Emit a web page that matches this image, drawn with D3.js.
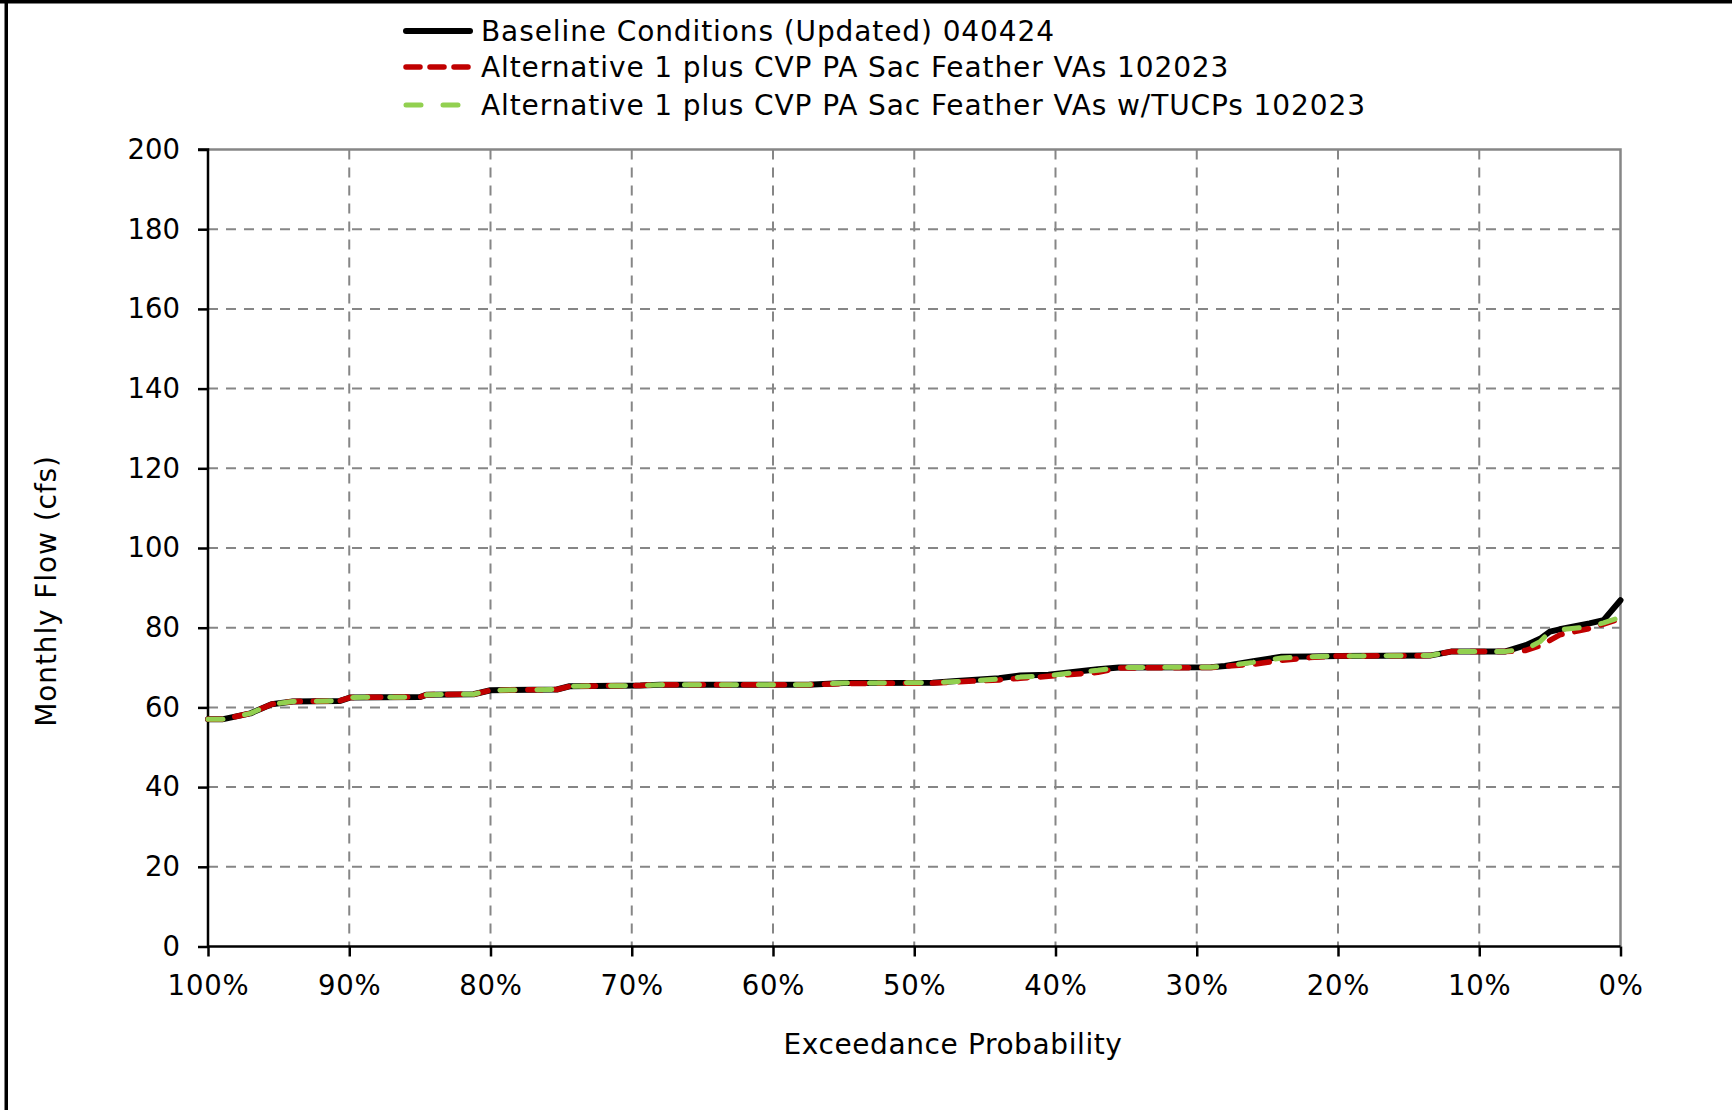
<!DOCTYPE html>
<html>
<head>
<meta charset="utf-8">
<script src="https://cdn.jsdelivr.net/npm/d3@7"></script>
<style>
  body { margin: 0; background: #fff; }
  text { font-family: Verdana, "DejaVu Sans", sans-serif; fill: #000; }
</style>
</head>
<body>
<div id="chart"></div>
<script>
// exceedance probability (%) and monthly flow (cfs)
const exceedance = [100, 99, 97, 95.5, 94, 90.7, 89.9, 85, 84.5, 81.2, 80, 75.3, 74.4, 69.4, 68, 57.5, 55, 48.7, 47, 44,
    42.5, 40.5, 37, 35.5, 29, 28, 26, 24, 22, 20, 13.5, 12, 8.2, 6.7, 5.7, 5.0, 4.3, 2.2, 1.2, 0];

const baseline = [57.0, 57.0, 58.5, 60.8, 61.5, 61.6, 62.5, 62.6, 63.2, 63.3, 64.3, 64.5, 65.3, 65.5, 65.7, 65.7, 66.1, 66.2, 66.6, 67.3,
    68.0, 68.2, 69.6, 70.0, 70.1, 70.4, 71.6, 72.7, 72.8, 72.9, 73.0, 74.0, 74.0, 75.6, 77.2, 79.0, 79.6, 81.1, 81.9, 86.9];

const alt1 = [57.0, 57.0, 58.5, 60.8, 61.5, 61.6, 62.5, 62.6, 63.2, 63.3, 64.3, 64.5, 65.3, 65.5, 65.7, 65.7, 66.0, 66.1, 66.4, 66.9,
    67.3, 67.8, 68.8, 69.9, 70.0, 70.3, 70.8, 71.8, 72.5, 72.9, 73.0, 74.0, 74.0, 74.3, 75.5, 76.8, 78.2, 79.8, 80.9, 82.3];

const alt1Tucp = [57.0, 57.0, 58.5, 60.8, 61.5, 61.6, 62.5, 62.6, 63.2, 63.3, 64.3, 64.5, 65.3, 65.5, 65.7, 65.7, 66.1, 66.2, 66.5, 67.1,
    67.6, 68.0, 69.3, 70.0, 70.1, 70.4, 71.3, 72.4, 72.7, 72.9, 73.0, 74.0, 74.0, 74.6, 76.5, 79.0, 79.5, 80.2, 81.2, 82.6];

const seriesNames = [
    "Baseline Conditions (Updated) 040424",
    "Alternative 1 plus CVP PA Sac Feather VAs 102023",
    "Alternative 1 plus CVP PA Sac Feather VAs w/TUCPs 102023"
];

const xTicks = [100, 90, 80, 70, 60, 50, 40, 30, 20, 10, 0];
const yTicks = [0, 20, 40, 60, 80, 100, 120, 140, 160, 180, 200];

const W = 1732, H = 1110;
const margin = { top: 149.5, right: 111.5, bottom: 163.5, left: 208 };
const width = W - margin.left - margin.right,
    height = H - margin.top - margin.bottom;

const styles = [
    { color: "#000000", width: 6, dash: null, cap: "round" },
    { color: "#c00000", width: 5.5, dash: "14,13", cap: "round" },
    { color: "#92d050", width: 5, dash: "15,22", cap: "round" }
];

const svg = d3.select("#chart").append("svg")
    .attr("width", W)
    .attr("height", H);

svg.append("rect").attr("width", W).attr("height", H).attr("fill", "#fff");

// outer frame (only top and left edges show)
svg.append("rect").attr("x", 0).attr("y", 0).attr("width", W).attr("height", 3.5).attr("fill", "#000");
svg.append("rect").attr("x", 4.5).attr("y", 0).attr("width", 3.5).attr("height", H).attr("fill", "#000");

const chart = svg.append("g")
    .attr("transform", `translate(${margin.left},${margin.top})`);

const x = d3.scaleLinear().domain([100, 0]).range([0, width]);
const y = d3.scaleLinear().domain([0, 200]).range([height, 0]);

// grid
chart.append("g")
    .selectAll("line")
    .data(yTicks.filter(d => d > 0 && d < 200))
    .enter().append("line")
    .attr("x1", 0).attr("x2", width)
    .attr("y1", d => y(d)).attr("y2", d => y(d))
    .attr("stroke", "#868686").attr("stroke-width", 2)
    .attr("stroke-dasharray", "10,8");

chart.append("g")
    .selectAll("line")
    .data(xTicks.filter(d => d > 0 && d < 100))
    .enter().append("line")
    .attr("y1", 0).attr("y2", height)
    .attr("x1", d => x(d)).attr("x2", d => x(d))
    .attr("stroke", "#868686").attr("stroke-width", 2)
    .attr("stroke-dasharray", "10,8");

// plot area top / right border
chart.append("path")
    .attr("d", `M0,${y(200)}H${x(0)}V${height}`)
    .attr("fill", "none")
    .attr("stroke", "#868686")
    .attr("stroke-width", 2.5);

// axes
const yAxis = chart.append("g")
    .call(d3.axisLeft(y).tickValues(yTicks).tickSize(10).tickPadding(18));
const xAxis = chart.append("g")
    .attr("transform", `translate(0,${height})`)
    .call(d3.axisBottom(x).tickValues(xTicks).tickSize(10).tickPadding(19).tickFormat(d => d + "%"));

[yAxis, xAxis].forEach(a => {
    a.select(".domain").attr("stroke", "#000").attr("stroke-width", 2.5);
    a.selectAll(".tick line").attr("stroke", "#000").attr("stroke-width", 2.5);
    a.selectAll(".tick text")
        .style("font-family", "Verdana, 'DejaVu Sans', sans-serif")
        .style("font-size", "27.5px")
        .attr("fill", "#000");
});
xAxis.selectAll(".tick text").style("letter-spacing", "0.8px");
yAxis.select(".domain").attr("d", `M-10,${y(200)}H0V${height}`);
xAxis.select(".domain").attr("d", `M0,0H${width}`);

// series lines
const line = d3.line()
    .x(d => x(d[0]))
    .y(d => y(d[1]));

[baseline, alt1, alt1Tucp].forEach((vals, i) => {
    const pts = exceedance.map((e, j) => [e, vals[j]]);
    const st = styles[i];
    chart.append("path")
        .datum(pts)
        .attr("d", line)
        .attr("fill", "none")
        .attr("stroke", st.color)
        .attr("stroke-width", st.width)
        .attr("stroke-linecap", st.cap)
        .attr("stroke-linejoin", "round")
        .attr("stroke-dasharray", st.dash);
});

// axis titles
svg.append("text")
    .attr("x", 953)
    .attr("y", 1054)
    .attr("text-anchor", "middle")
    .style("font-size", "28px")
    .style("letter-spacing", "0.6px")
    .text("Exceedance Probability");

svg.append("text")
    .attr("transform", "translate(56,591) rotate(-90)")
    .attr("text-anchor", "middle")
    .style("font-size", "28px")
    .style("letter-spacing", "0.9px")
    .text("Monthly Flow (cfs)");

// legend
const legendRows = [31, 67, 105];
const legend = svg.append("g");
seriesNames.forEach((name, i) => {
    const st = styles[i];
    legend.append("line")
        .attr("x1", 406).attr("x2", 470)
        .attr("y1", legendRows[i]).attr("y2", legendRows[i])
        .attr("stroke", st.color)
        .attr("stroke-width", st.width)
        .attr("stroke-linecap", st.cap)
        .attr("stroke-dasharray", i === 1 ? "14,10" : st.dash);
    legend.append("text")
        .attr("x", 481)
        .attr("y", legendRows[i])
        .attr("dy", "0.36em")
        .style("font-size", "28px")
        .style("letter-spacing", "0.9px")
        .text(name);
});
</script>
</body>
</html>
